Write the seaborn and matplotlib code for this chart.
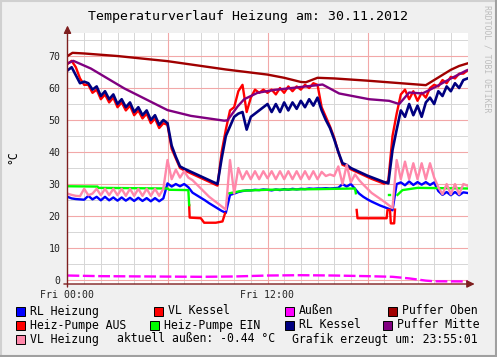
import numpy as np
import pandas as pd
import matplotlib
matplotlib.use('Agg')
import matplotlib.pyplot as plt
import seaborn as sns
from matplotlib.patches import Rectangle
from matplotlib.lines import Line2D

# ---------------- data ----------------
hours = np.arange(0, 24.01, 0.25)  # 15-minute sample grid, Fri 00:00 .. Sat 00:00

rl_kessel = [65.5, 66.5, 64.0, 61.5, 62.0, 61.5, 59.5, 60.5, 57.5, 59.0, 56.5, 58.0, 55.0, 56.5, 54.0, 55.5,
             52.5, 54.0, 51.5, 53.0, 50.0, 51.5, 48.5, 50.0, 49.0,
             42.0, 38.5, 35.5, 34.8, 34.2, 33.6, 33.0, 32.4, 31.8, 31.2, 30.6, 30.0, 38.0, 45.0, 48.0, 51.0,
             52.0, 52.5, 47.0, 51.0, 52.0, 53.0, 54.0, 55.0,
             52.5, 55.0, 52.5, 55.5, 53.0, 55.5, 53.5, 56.0, 54.0, 56.5, 54.5, 57.0, 53.0, 50.0, 47.5, 44.0,
             40.0, 36.5, 36.0, 35.0, 34.4, 33.8, 33.2, 32.6,
             32.1, 31.6, 31.1, 30.6, 30.2, 40.6, 47.0, 53.0, 51.0, 55.0, 51.5, 54.5, 51.0, 55.5, 57.0, 55.0,
             59.0, 57.5, 60.5, 59.0, 61.5, 60.0, 62.5, 63.0]

vl_kessel = [67.5, 68.5, 66.5, 63.0, 61.0, 61.0, 58.5, 59.5, 56.5, 58.0, 55.5, 57.0, 54.0, 55.5, 53.0, 54.5,
             51.5, 53.0, 50.5, 52.0, 49.0, 50.5, 47.5, 49.0, 48.5,
             41.0, 38.0, 35.0, 34.3, 33.7, 33.1, 32.5, 31.9, 31.3, 30.7, 30.1, 29.5, 40.0, 47.0, 53.0, 54.0,
             59.0, 61.0, 52.5, 57.0, 59.5, 58.5, 59.5, 58.5,
             59.5, 58.0, 60.0, 58.5, 60.5, 59.0, 60.5, 59.5, 61.0, 60.0, 61.5, 61.0, 54.0, 51.0, 48.0, 44.5,
             40.0, 36.0, 35.5, 34.6, 34.0, 33.4, 32.8, 32.2,
             31.6, 31.1, 30.6, 30.1, 31.0, 45.0, 52.0, 58.0, 59.5, 56.5, 59.0, 56.0, 58.5, 57.0, 60.0, 61.0,
             60.5, 62.5, 61.5, 63.5, 63.0, 64.5, 64.5, 65.5]

rl_heizung = [26.0, 25.5, 25.3, 25.2, 25.1, 26.3, 25.2, 26.0, 24.9, 26.0, 24.9, 25.8, 24.8, 25.8, 24.8, 25.7,
              24.7, 25.7, 24.7, 25.6, 24.6, 25.6, 24.6, 25.5, 30.2,
              29.2, 30.0, 29.3, 30.0, 29.0, 27.3, 26.5, 25.7, 24.9, 24.0, 23.2, 22.4, 21.6, 21.0, 26.6, 27.0,
              27.5, 27.8, 28.0, 28.0, 28.2, 28.1, 28.3, 28.2,
              28.0, 28.3, 28.1, 28.4, 28.2, 28.5, 28.3, 28.5, 28.4, 28.6, 28.5, 28.6, 28.6, 28.7, 28.6, 28.7,
              28.8, 30.0, 29.2, 30.0, 28.5, 27.0, 26.0, 25.2,
              24.5, 23.9, 23.3, 22.8, 22.3, 21.8, 30.0, 30.5, 29.6, 30.8, 29.7, 30.6, 29.8, 30.6, 29.7, 30.5,
              27.8, 26.6, 27.5, 26.5, 27.5, 26.5, 27.4, 27.2]

vl_heizung = [27.0, 26.6, 26.3, 26.2, 28.5, 26.5, 27.0, 28.5, 26.5, 28.5, 26.5, 28.5, 26.5, 28.5, 26.3, 28.5,
              26.3, 28.5, 26.3, 28.5, 26.3, 28.5, 26.3, 28.5, 37.5,
              31.5, 34.5, 32.0, 34.0, 32.0, 31.2, 29.9, 28.6, 27.3, 26.0, 25.0, 24.0, 23.0, 22.0, 37.5, 27.0,
              35.0, 31.5, 34.0, 31.5, 34.0, 31.5, 34.0, 31.8,
              34.0, 31.5, 34.0, 31.5, 34.0, 31.5, 34.0, 31.5, 34.0, 31.5, 34.0, 31.5, 33.8, 32.5, 33.0, 32.5,
              35.5, 30.0, 36.0, 30.5, 33.0, 31.2, 29.8, 28.5,
              27.2, 26.3, 25.4, 24.5, 23.5, 22.5, 37.5, 31.5, 37.0, 31.5, 36.5, 31.5, 36.5, 31.5, 36.5, 32.0,
              29.0, 26.8, 30.0, 26.8, 30.0, 26.8, 30.0, 29.5]

puffer_oben_t = [0, 0.3, 1, 3, 6, 9.5, 12, 13, 14, 14.3, 15, 16, 18, 20, 21.5, 22, 22.5, 23, 23.5, 24]
puffer_oben = [70.0, 71.0, 70.8, 70.0, 68.4, 65.8, 64.2, 63.2, 61.9, 61.8, 63.2, 63.0, 62.3, 61.5, 60.9,
               62.5, 64.1, 65.7, 66.9, 67.7]

puffer_mitte_t = [0, 0.35, 1.4, 3.4, 6.0, 7.4, 9.4, 9.6, 10.2, 10.6, 11.4, 12.4, 15.0, 15.3, 16.3, 18.1,
                  19.3, 19.9, 20.5, 21.3, 22.1, 22.9, 23.9, 24]
puffer_mitte = [67.7, 68.5, 66.1, 59.9, 53.1, 51.3, 49.8, 49.9, 54.2, 56.5, 58.5, 59.4, 60.9, 61.1, 58.3,
                56.5, 56.0, 55.0, 58.6, 58.3, 60.4, 62.7, 65.4, 65.6]

pumpe_ein_t = [0, 1.8, 1.85, 6.0, 6.1, 7.25, 7.3, 8.5, 9.7, 10.5, 12, 15, 17.25, 17.3, 18.3,
               19.28, 19.36, 19.55, 19.8, 20.1, 21, 24]
pumpe_ein = [29.3, 29.2, 28.8, 28.6, 28.2, 28.1, 23.4, np.nan, 27.1, 27.9, 28.2, 28.4, 28.6, 27.1, np.nan,
             26.6, 26.6, np.nan, 26.6, 28.1, 28.8, 28.6]

pumpe_aus_t = [7.3, 7.33, 8.0, 8.2, 8.9, 9.3, 9.45, 13.0, 17.35, 17.4, 19.15, 19.2, 19.35, 19.4, 19.6, 19.65]
pumpe_aus = [23.4, 19.5, 19.3, 17.9, 17.9, 18.3, 20.8, np.nan, 21.9, 19.3, 19.3, 21.9, 21.9, 17.7, 17.7, 22.0]

aussen_t = [0, 2, 5, 8, 10, 12, 14, 16, 18, 19.5, 20.5, 21.5, 22, 24]
aussen = [1.4, 1.2, 1.1, 1.0, 1.1, 1.4, 1.5, 1.4, 1.2, 1.0, 0.5, -0.2, -0.4, -0.45]

legend_names = ['RL Heizung', 'VL Kessel', 'Außen', 'Puffer Oben',
                'Heiz-Pumpe AUS', 'Heiz-Pumpe EIN', 'RL Kessel', 'Puffer Mitte', 'VL Heizung']
legend_colors = ['#0000FF', '#FF0000', '#FF00FF', '#A00000',
                 '#FF0000', '#00FF00', '#000080', '#800080', '#FF88AA']
y_ticks = [0, 10, 20, 30, 40, 50, 60, 70]
x_ticks = [0, 12]
x_labels = ['Fri 00:00', 'Fri 12:00']
title = 'Temperaturverlauf Heizung am: 30.11.2012'
comment1 = 'aktuell außen: -0.44 °C'
comment2 = 'Grafik erzeugt um: 23:55:01'

# ---------------- figure ----------------
MONO = 'DejaVu Sans Mono'
W, H = 497, 357
fig = plt.figure(figsize=(W / 100, H / 100), dpi=100, facecolor='#F0F0F0')
ax = fig.add_axes([67.5 / W, (H - 284) / H, 400 / W, (284 - 33) / H])
ax.set_facecolor('white')
ax.set_xlim(0, 24)
ax.set_ylim(-1.25, 77.2)

minor_c, major_c = '#D6D6D6', '#F2A8A8'
for h in range(1, 24):
    ax.axvline(h, color=minor_c, lw=0.7, zorder=0)
for v in range(5, 80, 10):
    ax.axhline(v, color=minor_c, lw=0.7, zorder=0)
for h in [6, 12, 18]:
    ax.axvline(h, color=major_c, lw=0.8, zorder=0.5)
for v in range(0, 80, 10):
    ax.axhline(v, color=major_c, lw=0.8, zorder=0.5)


def draw(t, v, color, lw=1.7, **kw):
    df = pd.DataFrame({'t': t, 'v': v})
    df['seg'] = df['v'].isna().cumsum()
    df = df.dropna()
    sns.lineplot(data=df, x='t', y='v', units='seg', estimator=None, sort=False,
                 color=color, lw=lw, ax=ax, legend=False, **kw)


draw(hours, rl_heizung, legend_colors[0])
draw(hours, vl_kessel, legend_colors[1])
draw(aussen_t, aussen, legend_colors[2], linestyle=(0, (5, 1.5)))
draw(puffer_oben_t, puffer_oben, legend_colors[3])
draw(pumpe_aus_t, pumpe_aus, legend_colors[4])
draw(pumpe_ein_t, pumpe_ein, legend_colors[5])
draw(hours, rl_kessel, legend_colors[6], lw=1.9)
draw(puffer_mitte_t, puffer_mitte, legend_colors[7])
draw(hours, vl_heizung, legend_colors[8])

for s in ax.spines.values():
    s.set_visible(False)
ax.set_xlabel('')
ax.set_ylabel('')
ax.set_yticks(y_ticks)
ax.set_yticklabels([str(v) for v in y_ticks], fontsize=7.1, family=MONO, color='#222222')
ax.set_xticks(x_ticks)
ax.set_xticklabels(x_labels, fontsize=7.1, family=MONO, color='#222222')
ax.tick_params(axis='y', length=0, pad=5.2)
ax.tick_params(axis='x', length=0, pad=4.0)

axis_c = '#7F1F1F'
ax.annotate('', xy=(1.018, 0), xytext=(-0.009, 0), xycoords='axes fraction',
            arrowprops=dict(arrowstyle='-|>,head_length=0.45,head_width=0.22', color=axis_c, lw=1.0,
                            shrinkA=0, shrinkB=0), annotation_clip=False)
ax.annotate('', xy=(0, 1.03), xytext=(0, -0.012), xycoords='axes fraction',
            arrowprops=dict(arrowstyle='-|>,head_length=0.45,head_width=0.22', color=axis_c, lw=1.0,
                            shrinkA=0, shrinkB=0), annotation_clip=False)

# texts
fig.text(248.5 / W, 1 - 16.5 / H, title, ha='center', va='center', fontsize=9.5, family=MONO)
fig.text(13 / W, 1 - 157 / H, '°C', rotation=90, ha='center', va='center', fontsize=8.3, family=MONO)
fig.text(487.5 / W, 1 - 5 / H, 'RRDTOOL / TOBI OETIKER', rotation=270, ha='center', va='top',
         fontsize=5.9, family=MONO, color='#BDBDBD')

# legend
rows = [311, 325, 339]
text_x = [[30, 168, 299, 402], [30, 164, 299, 397], [30]]
k = 0
for r, xs in enumerate(text_x):
    for tx in xs:
        yc = rows[r]
        fig.add_artist(Rectangle(((tx - 14.5) / W, 1 - (yc + 4.5) / H), 9 / W, 9 / H,
                                 transform=fig.transFigure, facecolor=legend_colors[k],
                                 edgecolor='black', lw=0.7))
        fig.text(tx / W, 1 - yc / H, legend_names[k], ha='left', va='center', fontsize=8.3, family=MONO)
        k += 1
fig.text(117 / W, 1 - rows[2] / H, comment1, ha='left', va='center', fontsize=8.3, family=MONO)
fig.text(292 / W, 1 - rows[2] / H, comment2, ha='left', va='center', fontsize=8.3, family=MONO)

# 3D canvas border
def fl(x0, y0, x1, y1, c):
    fig.add_artist(Line2D([x0 / W, x1 / W], [1 - y0 / H, 1 - y1 / H], transform=fig.transFigure,
                          color=c, lw=1.5))

fl(0.5, 0.5, 496, 0.5, '#D0D0D0')
fl(0.5, 0.5, 0.5, 356, '#D0D0D0')
fl(495.5, 1, 495.5, 356.5, '#A0A0A0')
fl(1, 355.5, 496.5, 355.5, '#A0A0A0')

fig.savefig('out.png', dpi=100, facecolor=fig.get_facecolor())
